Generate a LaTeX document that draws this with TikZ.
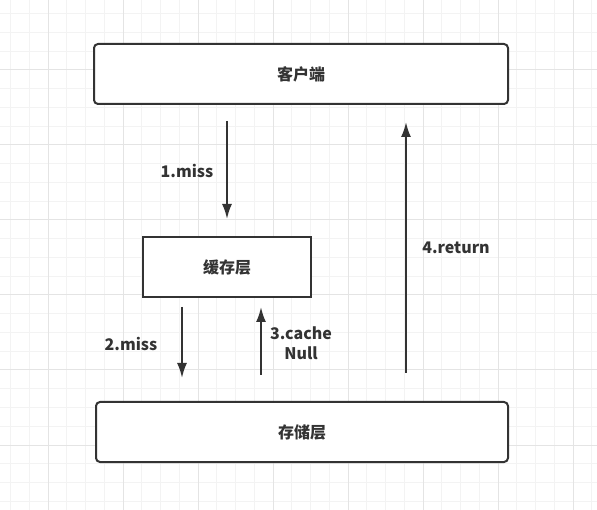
\documentclass[tikz,border=0pt]{standalone}
\usepackage{fontspec}
\setmainfont{Noto Sans CJK SC}
\usetikzlibrary{positioning,arrows.meta}
\definecolor{ink}{HTML}{333333}
\definecolor{gridminor}{HTML}{F3F3F3}
\definecolor{gridmajor}{HTML}{E4E4E4}

\begin{document}
\begin{tikzpicture}[x=1pt, y=-1pt, line width=2pt, text=ink,
  font=\bfseries\fontsize{16}{20}\selectfont,
  layer/.style={draw=ink, fill=white, minimum height=60pt, inner sep=0pt},
  flow/.style={draw=ink, -{Latex[length=15pt,width=10pt]}}]
\useasboundingbox (0,0) rectangle (597,510);
\fill[white] (0,0) rectangle (597,510);
% background grid
\foreach \g in {0,...,31}
  \draw[gridminor, line width=1pt] (10.5+18.75*\g,0) -- (10.5+18.75*\g,510);
\foreach \g in {0,...,27}
  \draw[gridminor, line width=1pt] (0,13.75+18.75*\g) -- (597,13.75+18.75*\g);
\foreach \g in {0,...,7}
  \draw[gridmajor, line width=1pt] (48+75*\g,0) -- (48+75*\g,510);
\foreach \g in {0,...,6}
  \draw[gridmajor, line width=1pt] (0,-5+75*\g) -- (597,-5+75*\g);

\node[layer, rounded corners=4pt, minimum width=414pt] (client) at (301,74) {客户端};
\node[layer, minimum width=168pt] (cache) at (227,267) {缓存层};
\node[layer, rounded corners=4pt, minimum width=412pt] (storage) at (302,432) {存储层};
\coordinate (back) at (406,0);

\draw[flow, shorten <=16pt, shorten >=17pt] (client.south -| cache) -- (cache.north);
\draw[flow, shorten <=9pt, shorten >=23pt] ([xshift=-45pt]cache.south) -- ([xshift=-45pt]cache.south |- storage.north);
\draw[flow, shorten <=26pt, shorten >=9pt] ([xshift=34pt]cache.south |- storage.north) -- ([xshift=34pt]cache.south);
\draw[flow, shorten <=28pt, shorten >=17pt] (storage.north -| back) -- (client.south -| back);

\node (miss1) at (187,171) {1.miss};
\node (miss2) at (131,344) {2.miss};
\node[align=center] (null3) at (301,343) {3.cache\\Null};
\node (ret4) at (456,248) {4.return};
\end{tikzpicture}
\end{document}
